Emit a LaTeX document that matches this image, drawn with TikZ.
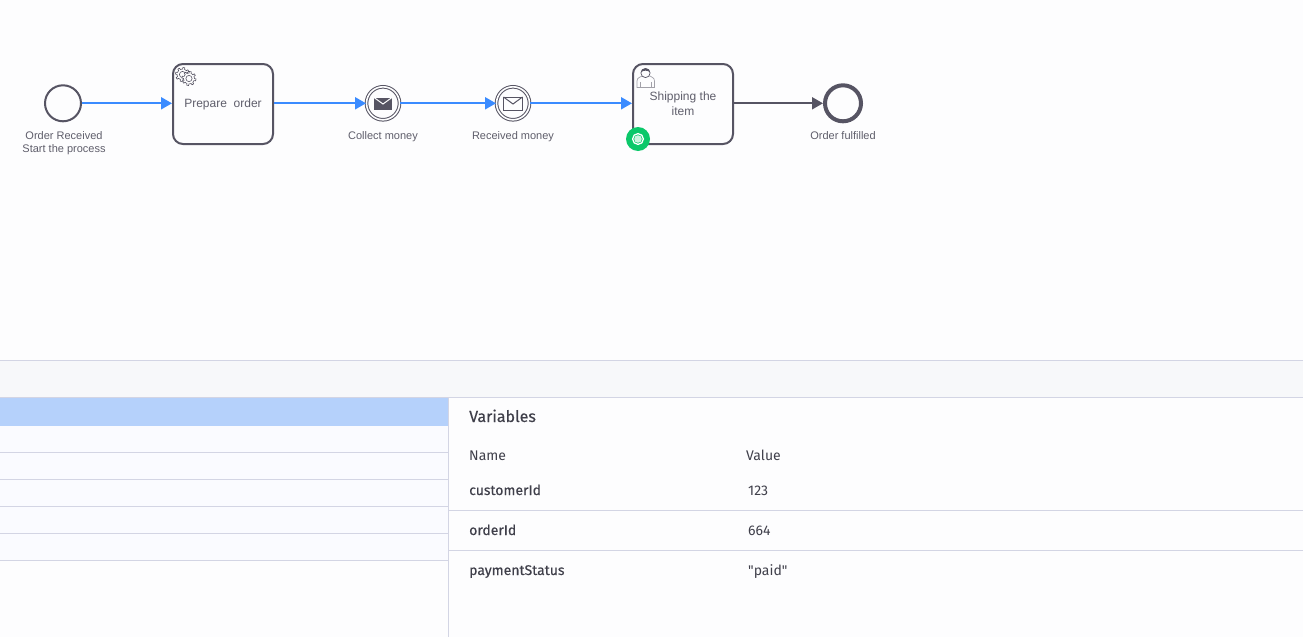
\documentclass[tikz,border=0pt]{standalone}
\usepackage{fontspec}
\setmainfont{Liberation Sans}
\newfontfamily\panelfont{Fira Sans}
\newfontfamily\panelbold[FakeBold=0.35]{Fira Sans}
\usetikzlibrary{arrows.meta}
\definecolor{ink}{HTML}{565463}
\definecolor{labelink}{HTML}{5F5E6B}
\definecolor{flowblue}{HTML}{3A8BFF}
\definecolor{rowline}{HTML}{D3D5E4}
\definecolor{paneltxt}{HTML}{3F3F4A}
\definecolor{pagebg}{HTML}{FDFDFE}
\definecolor{bandbg}{HTML}{F7F8FA}
\definecolor{rowbg}{HTML}{FAFBFF}
\definecolor{rowsel}{HTML}{B5D1FB}
\definecolor{badge}{HTML}{0BC86A}
\tikzset{
  x=1pt,y=-1pt,
  task/.style={draw=ink,line width=2pt,rounded corners=10pt,minimum width=100pt,minimum height=80pt,inner sep=2pt,align=center,text=labelink,font=\fontsize{12}{15}\selectfont,fill=pagebg},
  evstart/.style={circle,draw=ink,line width=2pt,minimum size=36pt,inner sep=0pt,fill=pagebg},
  evend/.style={circle,draw=ink,line width=4pt,minimum size=36pt,inner sep=0pt,fill=pagebg},
  evmsg/.style={circle,draw=ink,line width=1pt,double=pagebg,double distance=1.6pt,minimum size=33pt,inner sep=0pt,fill=pagebg},
  evlabel/.style={text=labelink,font=\fontsize{11}{13}\selectfont,align=center,inner sep=0pt},
  flow/.style={draw=flowblue,line width=2pt,-{Triangle[length=11pt,width=12pt]}},
  flowdone/.style={draw=ink,line width=2pt,-{Triangle[length=11pt,width=12pt]}},
  rowrule/.style={draw=rowline,line width=1pt},
  panelhead/.style={anchor=base west,inner sep=0pt,text=paneltxt,font=\panelbold\fontsize{16}{18}\selectfont},
  panelcell/.style={anchor=base west,inner sep=0pt,text=paneltxt,font=\panelfont\fontsize{14}{16}\selectfont},
  panelkey/.style={panelcell,font=\panelbold\fontsize{14}{16}\selectfont},
  iconline/.style={draw=ink,line width=.6pt,fill=pagebg},
}
\newcommand{\gearicon}[3]{%
  \draw[iconline] plot[samples=97,domain=0:360] ({#1+(#3+(#3*.13)*(sin(8*\x)>0 ? 1:-1))*cos(\x)},{#2+(#3+(#3*.13)*(sin(8*\x)>0 ? 1:-1))*sin(\x)}) -- cycle;
  \draw[iconline] (#1,#2) circle[radius=#3*.5];
}
\begin{document}
\begin{tikzpicture}
\useasboundingbox (0,0) rectangle (1303,637);
\fill[pagebg] (0,0) rectangle (1303,637);
% bottom panels
\fill[bandbg] (0,360.5) rectangle (1303,397.5);
\draw[rowrule] (0,360.5) -- (1303,360.5);
\draw[rowrule] (0,397.5) -- (1303,397.5);
\fill[rowbg] (0,398) rectangle (448,560);
\fill[rowsel] (0,398) rectangle (448,426);
\foreach \yy in {452.5,479.5,506.5,533.5,560.5} \draw[rowrule] (0,\yy) -- (448,\yy);
\draw[rowrule] (448.5,398) -- (448.5,637);
\draw[rowrule] (449,510.5) -- (1303,510.5);
\draw[rowrule] (449,550.5) -- (1303,550.5);
\node[panelhead] (vars) at (469,422) {Variables};
\node[panelcell] (nameh) at (469,460) {Name};
\node[panelcell] (valueh) at (746,460) {Value};
\node[panelkey] (k1) at (469,495) {customerId};
\node[panelcell] (v1) at (748,495) {123};
\node[panelkey] (k2) at (469,535) {orderId};
\node[panelcell] (v2) at (748,535) {664};
\node[panelkey] (k3) at (469,575) {paymentStatus};
\node[panelcell] (v3) at (748,575) {"paid"};
% diagram nodes
\node[evstart] (start) at (63,103.3) {};
\node[task] (prep) at (223,104) {Prepare\ \ order};
\node[evmsg] (collect) at (383,103.3) {};
\node[evmsg] (received) at (513,103.3) {};
\node[task] (ship) at (683,104) {Shipping the\\item};
\node[evend] (finish) at (843,103.3) {};
% connectors
\draw[flow] (start.east) -- (start.east -| prep.west);
\draw[flow] (prep.east |- collect.west) -- (collect.west);
\draw[flow] (collect.east) -- (received.west);
\draw[flow] (received.east) -- (received.east -| ship.west);
\draw[flowdone] (ship.east |- finish.west) -- (finish.west);
% labels
\node[evlabel] (l1) at (64,143) {Order Received\\Start the process};
\node[evlabel] (l2) at (383,137) {Collect money};
\node[evlabel] (l3) at (513,137) {Received money};
\node[evlabel] (l4) at (843,136) {Order fulfilled};
% icons
\gearicon{182.5}{74.5}{6.2}
\gearicon{189}{78.5}{6.2}
% envelope filled
\fill[ink] (374,97.5) rectangle (392,109.5);
\draw[pagebg,line width=1pt] (374,97.5) -- (383,104) -- (392,97.5);
% envelope outline
\draw[ink,line width=1pt,fill=pagebg] (503.5,97) rectangle (522.5,110);
\draw[ink,line width=1pt] (503.5,97) -- (513,104) -- (522.5,97);
% user icon
\draw[draw=ink!55,line width=.7pt,fill=pagebg] (637,87.5) -- (637,81) .. controls (637,77) and (641,77.5) .. (642,76) -- (650,76) .. controls (651,77.5) and (654.5,77) .. (654.5,81) -- (654.5,87.5) -- cycle;
\draw[draw=ink!55,line width=.7pt] (640.5,87.5) -- (640.5,82) (651,87.5) -- (651,82);
\draw[draw=ink,line width=.7pt,fill=pagebg] (645.5,73) circle[radius=4.6];
\fill[ink] (640.9,72.5) .. controls (641,67) and (650,67) .. (650.1,72.5) .. controls (648,70) and (643,70) .. (640.9,72.5) -- cycle;
% status badge
\node[circle,fill=badge,minimum size=24pt,inner sep=0pt] (token) at (638,139) {};
\draw[white,line width=1.3pt] (token.center) circle[radius=5.4];
\fill[white!80!badge] (token.center) circle[radius=3.8];
\end{tikzpicture}
\end{document}
